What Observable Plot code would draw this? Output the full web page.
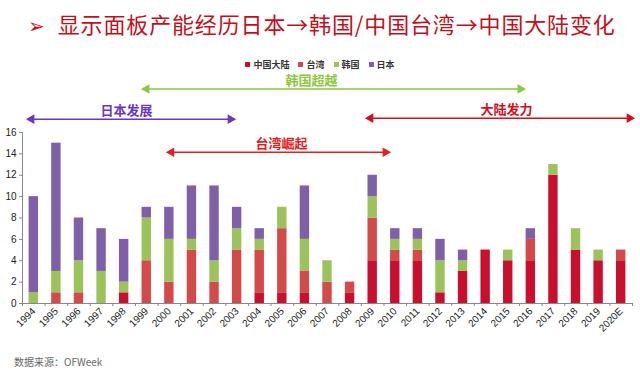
<!DOCTYPE html>
<html>
<head>
<meta charset="utf-8">
<script src="https://cdn.jsdelivr.net/npm/d3@7"></script>
<script src="https://cdn.jsdelivr.net/npm/@observablehq/plot@0.6"></script>
<style>
  html, body { margin: 0; padding: 0; background: #fff; }
  #wrap { position: relative; width: 640px; height: 374px; overflow: hidden; font-family: "Noto Sans CJK SC", "Noto Sans", sans-serif; }
  #title { position: absolute; left: 28px; top: 9px; height: 28px; line-height: 28px; font-size: 22px; color: #c0101e; white-space: nowrap; letter-spacing: 0.85px; }
  #title .mark { font-family: "DejaVu Sans", sans-serif; font-size: 20px; margin-right: 13px; letter-spacing: 0; }
  #legend { position: absolute; left: 0; width: 640px; top: 58px; height: 14px; display: flex; justify-content: center; gap: 9px; font-size: 9px; line-height: 14px; color: #333; font-weight: bold; }
  #legend span.sw { display: inline-block; width: 5px; height: 5px; margin-right: 3px; vertical-align: 1px; }
  #source { position: absolute; left: 14px; top: 354px; font-size: 10px; line-height: 16px; color: #666; }
  #chart { position: absolute; left: 0; top: 0; }
</style>
</head>
<body>
<div id="wrap">
  <div id="chart"></div>
  <div id="title"><span class="mark">➢</span>显示面板产能经历日本→韩国/中国台湾→中国大陆变化</div>
  <div id="legend"></div>
  <div id="source">数据来源：OFWeek</div>
</div>
<script>
// ---- data ----
const years = ["1994","1995","1996","1997","1998","1999","2000","2001","2002","2003","2004","2005","2006","2007","2008","2009","2010","2011","2012","2013","2014","2015","2016","2017","2018","2019","2020E"];
const series = ["中国大陆", "台湾", "韩国", "日本"];
const colors = ["#c8102e", "#d24a4a", "#9bc25b", "#7f60a8"];
const mainland = [0,0,0,0,1,0,0,0,0,0,1,1,1,0,1,4,4,4,1,3,5,4,4,12,5,4,4];
const taiwan   = [0,1,1,0,0,4,2,5,2,5,4,6,2,2,1,4,1,1,0,0,0,0,2,0,0,0,1];
const korea    = [1,2,3,3,1,4,4,1,2,2,1,2,3,2,0,2,1,1,3,1,0,1,0,1,2,1,0];
const japan    = [9,12,4,4,4,1,3,5,7,2,1,0,5,0,0,2,1,1,2,1,0,0,1,0,0,0,0];
const yTicks = [0,2,4,6,8,10,12,14,16];

// annotations: positions in category-index units and value units
const annotations = [
  {label: "日本发展", color: "#6a35c0", from: 0.27, to: 9.34, level: 17.25, textX: 4.6},
  {label: "韩国超越", color: "#8dc63f", from: 5.36, to: 22.17, level: 20.07, textX: 12.79},
  {label: "大陆发力", color: "#d0101e", from: 15.27, to: 27.0, level: 17.34, textX: 21.42},
  {label: "台湾崛起", color: "#e0201e", from: 6.46, to: 16.2, level: 14.15, textX: 11.46}
];

// ---- build stacked rows ----
const valuesBySeries = [mainland, taiwan, korea, japan];
const rows = [];
years.forEach((yr, i) => {
  let acc = 0;
  series.forEach((s, k) => {
    const v = valuesBySeries[k][i];
    if (v > 0) rows.push({i0: i, i1: i + 1, year: yr, series: s, y1: acc, y2: acc + v});
    acc += v;
  });
});

// ---- legend ----
const legend = document.getElementById("legend");
series.forEach((s, k) => {
  const item = document.createElement("span");
  item.innerHTML = `<span class="sw" style="background:${colors[k]}"></span>${s}`;
  legend.appendChild(item);
});

// ---- chart ----
const chart = Plot.plot({
  width: 640,
  height: 374,
  marginLeft: 22,
  marginRight: 8,
  marginTop: 132,
  marginBottom: 71,
  style: {fontFamily: "'Liberation Sans', Arial, sans-serif", fontSize: "10px", color: "#222", background: "transparent"},
  x: {domain: [0, years.length], axis: null},
  y: {domain: [0, 16], axis: null},
  color: {domain: series, range: colors},
  marks: [
    Plot.rect(rows, {x1: "i0", x2: "i1", y1: "y1", y2: "y2", fill: "series", insetLeft: 6.6, insetRight: 6.6}),
    Plot.ruleY([0], {stroke: "#888", strokeWidth: 1}),
    Plot.ruleX([0], {y1: 0, y2: 16, stroke: "#888", strokeWidth: 1}),
    Plot.axisY(yTicks, {tickSize: 3, tickPadding: 3, stroke: "#888", fontSize: 10, fill: "#222"}),
    Plot.axisX(d3.range(0, years.length + 1), {tickSize: 3, tickFormat: () => "", stroke: "#888"}),
    Plot.axisX(d3.range(years.length).map(i => i + 0.5), {tickSize: 0, tickPadding: 6, tickRotate: -45, tickFormat: d => years[Math.round(d - 0.5)], fontSize: 10, fill: "#222"}),
    // annotation arrows
    Plot.link(annotations, {x1: "from", x2: "to", y1: "level", y2: "level", stroke: "color", strokeWidth: 1.5}),
    Plot.dot(annotations, {x: "from", y: "level", symbol: "triangle", rotate: -90, r: 3.6, fill: "color", stroke: "none", dx: 3}),
    Plot.dot(annotations, {x: "to", y: "level", symbol: "triangle", rotate: 90, r: 3.6, fill: "color", stroke: "none", dx: -3}),
    Plot.text(annotations, {x: "textX", y: "level", text: "label", fill: "color", dy: -8, fontSize: 13, fontWeight: "bold", fontFamily: "'Noto Sans CJK SC', sans-serif"})
  ]
});
document.getElementById("chart").appendChild(chart);
</script>
</body>
</html>
